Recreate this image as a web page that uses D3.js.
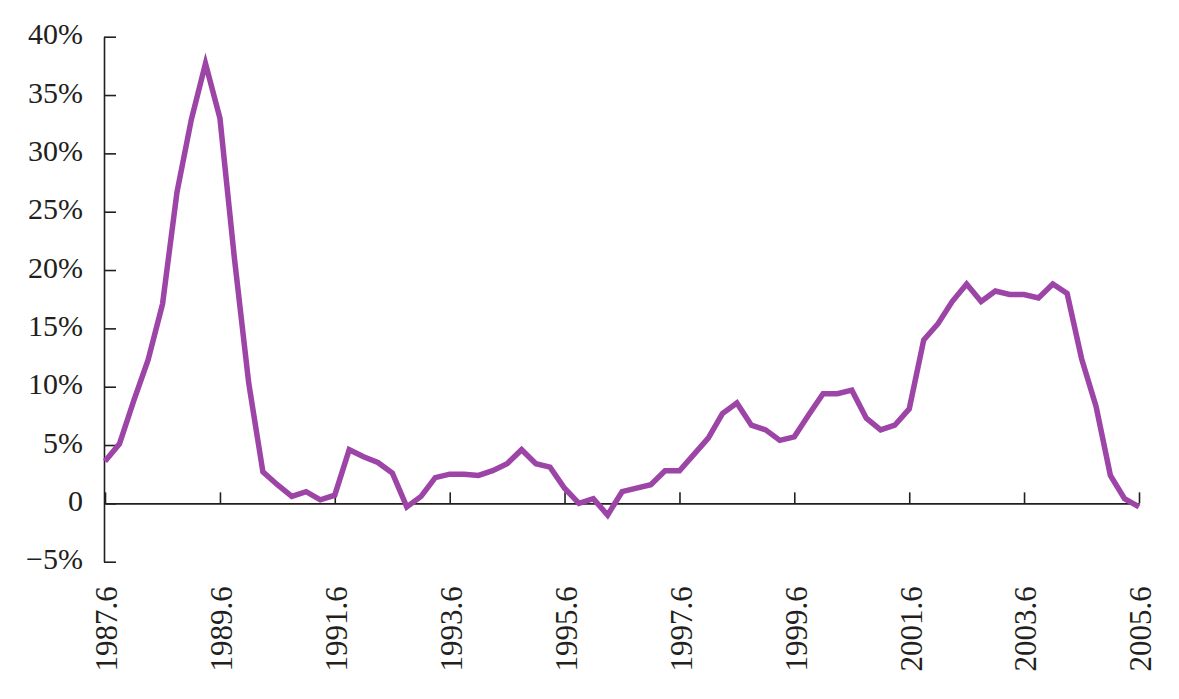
<!DOCTYPE html>
<html>
<head>
<meta charset="utf-8">
<script src="https://cdn.jsdelivr.net/npm/d3@7"></script>
<style>
  html, body { margin: 0; padding: 0; background: #fff; }
  svg text { font-family: "Liberation Serif", "Times New Roman", serif; fill: #231f20; }
</style>
</head>
<body>
<div id="chart"></div>
<script>

// quarterly series, first observation June 1987, last June 2005 (values in %)
const startYear = 1987, startMonth = 6;
const growth = [
  3.6, 5.1, 8.8, 12.3, 17.1, 26.7, 32.9, 37.7, 33.0, 21.0,
  10.3, 2.7, 1.6, 0.6, 1.0, 0.3, 0.7, 4.6, 4.0, 3.5,
  2.6, -0.3, 0.6, 2.2, 2.5, 2.5, 2.4, 2.8, 3.4, 4.6,
  3.4, 3.1, 1.3, 0.0, 0.4, -1.0, 1.0, 1.3, 1.6, 2.8,
  2.8, 4.2, 5.6, 7.7, 8.6, 6.7, 6.3, 5.4, 5.7, 7.6,
  9.4, 9.4, 9.7, 7.3, 6.3, 6.7, 8.1, 14.0, 15.4, 17.3,
  18.8, 17.3, 18.2, 17.9, 17.9, 17.6, 18.8, 18.0, 12.4, 8.3,
  2.4, 0.4, -0.3
];

// x tick labels (year.month)
const xTickLabels = ["1987.6", "1989.6", "1991.6", "1993.6", "1995.6",
                     "1997.6", "1999.6", "2001.6", "2003.6", "2005.6"];
// y ticks
const yTicks = [-5, 0, 5, 10, 15, 20, 25, 30, 35, 40];

const width = 1179, height = 699;

const svg = d3.select("#chart")
    .append("svg")
    .attr("width", width)
    .attr("height", height);

// each observation is one quarter after the previous one
const dates = growth.map((d, i) => new Date(startYear, startMonth - 1 + 3 * i, 1));
const parseLabel = s => { const p = s.split("."); return new Date(+p[0], +p[1] - 1, 1); };

const x = d3.scaleTime()
    .domain([dates[0], dates[dates.length - 1]])
    .range([105, 1139]);

const y = d3.scaleLinear()
    .domain([-5, 40])
    .range([561.7, 36.7]);

const axisColor = "#231f20";

// Y axis, ticks pointing inward
const yAxis = svg.append("g")
    .attr("transform", "translate(104,0)")
    .call(d3.axisLeft(y)
        .tickValues(yTicks)
        .tickSizeInner(-12)
        .tickSizeOuter(0)
        .tickPadding(21)
        .tickFormat(d => d === 0 ? "0" : (d < 0 ? "\u2212" + Math.abs(d) : d) + "%"));

yAxis.selectAll("text")
    .attr("font-size", 30)
    .attr("dy", "7px");

// X axis at the zero line
const xAxis = svg.append("g")
    .attr("transform", `translate(0,${y(0)})`)
    .call(d3.axisBottom(x)
        .tickValues(xTickLabels.map(parseLabel))
        .tickSizeInner(-11)
        .tickSizeOuter(0)
        .tickFormat((d, i) => xTickLabels[i]));

xAxis.selectAll("text")
    .attr("font-size", 31)
    .attr("transform", "rotate(-90)")
    .attr("text-anchor", "end")
    .attr("x", -83)
    .attr("y", 1)
    .attr("dy", "0.35em");

svg.selectAll(".domain, .tick line")
    .attr("stroke", axisColor)
    .attr("stroke-width", 1.6);

// the series
svg.append("path")
    .datum(growth)
    .attr("fill", "none")
    .attr("stroke", "#9d44a7")
    .attr("stroke-width", 5.5)
    .attr("d", d3.line()
        .x((d, i) => x(dates[i]))
        .y(d => y(d)));

</script>
</body>
</html>
